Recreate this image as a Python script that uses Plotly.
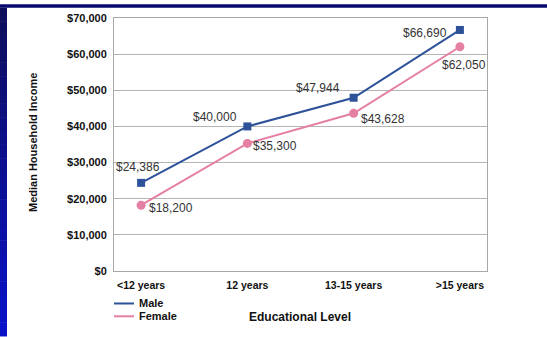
import plotly.graph_objects as go

# Median household income by educational level
categories = ["<12 years", "12 years", "13-15 years", ">15 years"]
male = [24386, 40000, 47944, 66690]
female = [18200, 35300, 43628, 62050]
y_ticks = [0, 10000, 20000, 30000, 40000, 50000, 60000, 70000]

W, H = 547, 337
L, R, T, B = 114, 60, 14, 66
PW, PH = W - L - R, H - T - B

MALE_C = "#2d5299"
FEMALE_C = "#e57fa3"
BOLD = dict(family="Liberation Sans", size=11, color="#111111", weight="bold")
LABEL_FONT = dict(family="Liberation Sans", size=12, color="#333333")


def px_x(p):
    return (p - L) / PW


def px_y(p):
    return (H - B - p) / PH


fig = go.Figure()
fig.add_trace(go.Scatter(
    x=categories, y=male, mode="lines+markers", name="Male",
    line=dict(color=MALE_C, width=2),
    marker=dict(symbol="square", size=8, color=MALE_C),
    showlegend=False,
))
fig.add_trace(go.Scatter(
    x=categories, y=female, mode="lines+markers", name="Female",
    line=dict(color=FEMALE_C, width=2),
    marker=dict(symbol="circle", size=9, color=FEMALE_C),
    showlegend=False,
))

# value labels: (xanchor, yanchor, xshift, yshift) per point
male_pos = [("center", "bottom", -3, 7), ("right", "bottom", -8, 0),
            ("right", "bottom", -12, 1), ("right", "middle", -11, -3)]
female_pos = [("left", "middle", 6, -3), ("left", "middle", 4, -3),
              ("left", "middle", 5, -6), ("center", "top", 4, -9)]
for series, pos in ((male, male_pos), (female, female_pos)):
    for cat, val, (xa, ya, xs, ys) in zip(categories, series, pos):
        fig.add_annotation(
            x=cat, y=val, text=f"${val:,}", showarrow=False,
            xanchor=xa, yanchor=ya, xshift=xs, yshift=ys, font=LABEL_FONT,
        )

shapes = []
# slide frame: navy top band and a blue gradient strip on the left
shapes.append(dict(type="rect", xref="paper", yref="paper", layer="below",
                   x0=px_x(0), x1=px_x(W), y0=px_y(0), y1=px_y(3.5),
                   fillcolor="#08086e", line=dict(width=0)))
n = 24
for i in range(n):
    f = i / (n - 1)
    r = int(14 + (10 - 14) * f)
    g = int(14 + (18 - 14) * f)
    b = int(92 + (200 - 92) * f)
    y0 = 3.5 + (H - 3.5) * i / n
    y1 = 3.5 + (H - 3.5) * (i + 1) / n
    shapes.append(dict(type="rect", xref="paper", yref="paper", layer="below",
                       x0=px_x(0), x1=px_x(7), y0=px_y(y1 + 0.5), y1=px_y(y0),
                       fillcolor=f"rgb({r},{g},{b})", line=dict(width=0)))

# legend glyphs
for ypix, color in ((304, MALE_C), (317, FEMALE_C)):
    shapes.append(dict(type="line", xref="paper", yref="paper",
                       x0=px_x(114), x1=px_x(134), y0=px_y(ypix), y1=px_y(ypix),
                       line=dict(color=color, width=2)))
fig.add_annotation(xref="paper", yref="paper", x=px_x(137), y=px_y(304),
                   text="Male", showarrow=False, xanchor="left", yanchor="middle",
                   font=BOLD)
fig.add_annotation(xref="paper", yref="paper", x=px_x(137), y=px_y(317),
                   text="Female", showarrow=False, xanchor="left", yanchor="middle",
                   font=BOLD)

# axis titles
fig.add_annotation(xref="paper", yref="paper", x=px_x(33), y=px_y(141),
                   text="Median Household Income", showarrow=False, textangle=-90,
                   xanchor="center", yanchor="middle", font=BOLD)
fig.add_annotation(xref="paper", yref="paper", x=px_x(300), y=px_y(318),
                   text="Educational Level", showarrow=False,
                   xanchor="center", yanchor="middle", font={**BOLD, "size": 12})

fig.update_layout(
    width=W, height=H,
    margin=dict(l=L, r=R, t=T, b=B, pad=0),
    paper_bgcolor="white", plot_bgcolor="white",
    shapes=shapes,
    xaxis=dict(
        type="category", range=[-0.255, 3.255],
        showgrid=False, showline=True, mirror=True, linecolor="#a8a8a8", linewidth=1,
        ticks="", tickfont={**BOLD, "size": 10.5},
        ticklabelstandoff=4, zeroline=False,
    ),
    yaxis=dict(
        range=[0, 70000], tickvals=y_ticks,
        ticktext=[f"${v:,}" for v in y_ticks],
        showgrid=True, gridcolor="#b4b4b4", gridwidth=1,
        showline=True, mirror=True, linecolor="#a8a8a8", linewidth=1,
        ticks="", tickfont=BOLD, ticklabelstandoff=4, zeroline=False,
    ),
)

fig.write_html("out.html")
